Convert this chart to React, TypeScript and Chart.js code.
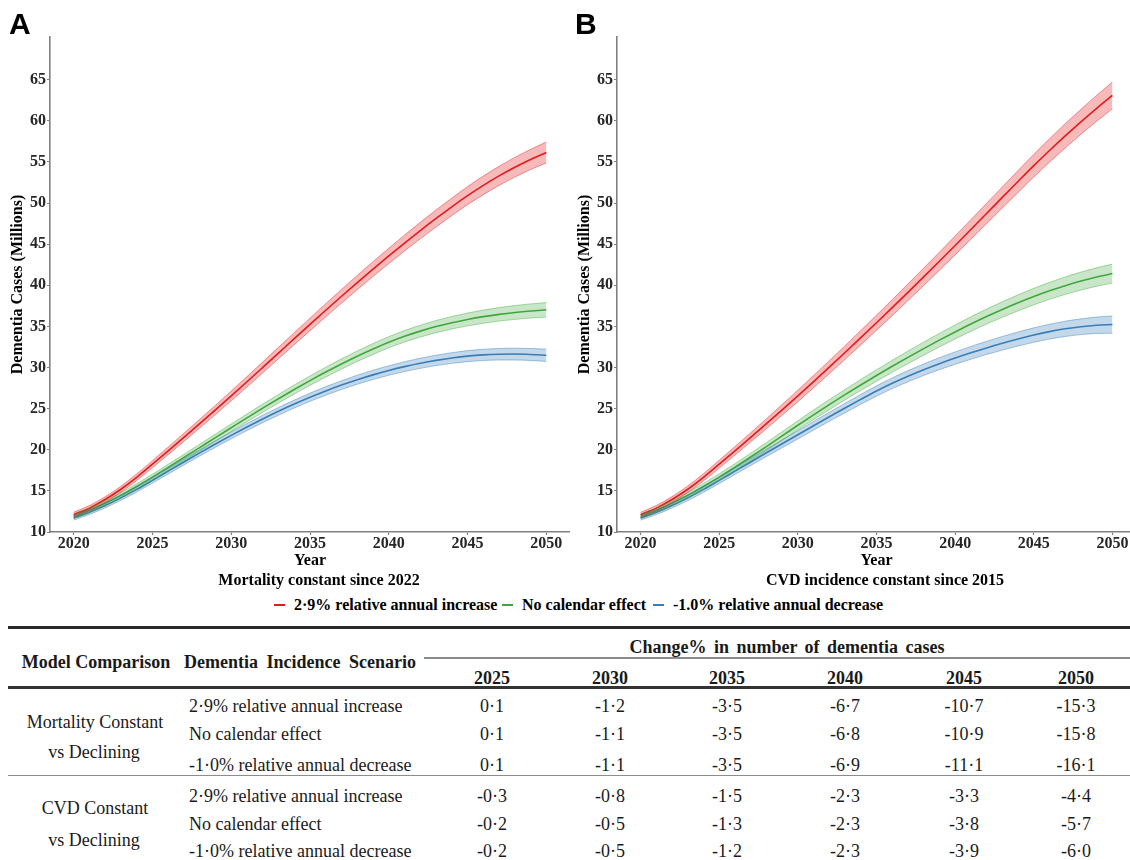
import React, { useEffect, useRef } from 'react';
import { Chart, registerables } from 'chart.js';

Chart.register(...registerables);

const SERIF = "'Liberation Serif', 'Times New Roman', serif";
const SANS = "'Liberation Sans', Arial, sans-serif";

// ---------- chart data ----------
const YEARS = [2020, 2021, 2022, 2023, 2024, 2025, 2026, 2027, 2028, 2029, 2030, 2031, 2032, 2033, 2034, 2035,
  2036, 2037, 2038, 2039, 2040, 2041, 2042, 2043, 2044, 2045, 2046, 2047, 2048, 2049, 2050];
const X_TICKS = [2020, 2025, 2030, 2035, 2040, 2045, 2050];
const Y_TICKS = [10, 15, 20, 25, 30, 35, 40, 45, 50, 55, 60, 65];

const SERIES_NAMES = ['2·9% relative annual increase', 'No calendar effect', '-1.0% relative annual decrease'];
const LINE_COLORS = ['#E41A1C', '#3FA83C', '#377EB8'];
const EDGE_COLORS = ['rgba(228,26,28,0.55)', 'rgba(63,168,60,0.55)', 'rgba(55,126,184,0.55)'];
const BAND_COLORS = ['rgba(228,26,28,0.3)', 'rgba(77,175,74,0.3)', 'rgba(55,126,184,0.3)'];

// Panel A: Mortality constant since 2022
const A_INCREASE = [12.1, 12.9, 13.95, 15.2, 16.65, 18.25, 19.87, 21.51, 23.17, 24.85, 26.55, 28.27, 30.01, 31.76, 33.51, 35.25,
  36.97, 38.67, 40.34, 41.98, 43.58, 45.14, 46.66, 48.13, 49.55, 50.91, 52.16, 53.31, 54.36, 55.31, 56.16];
const A_INCREASE_HW = [0.3, 0.32, 0.34, 0.37, 0.4, 0.43, 0.46, 0.5, 0.53, 0.56, 0.6, 0.63, 0.66, 0.7, 0.73, 0.76,
  0.8, 0.83, 0.86, 0.9, 0.93, 0.96, 1.0, 1.03, 1.06, 1.1, 1.13, 1.16, 1.2, 1.23, 1.27];
const A_NOEFFECT = [11.9, 12.64, 13.5, 14.47, 15.54, 16.68, 17.86, 19.06, 20.27, 21.48, 22.68, 23.88, 25.06, 26.21, 27.33, 28.41,
  29.45, 30.44, 31.38, 32.26, 33.08, 33.8, 34.43, 34.98, 35.45, 35.85, 36.19, 36.47, 36.7, 36.88, 37.02];
const A_NOEFFECT_HW = [0.25, 0.27, 0.29, 0.31, 0.33, 0.35, 0.37, 0.39, 0.41, 0.43, 0.46, 0.48, 0.5, 0.52, 0.55, 0.57,
  0.59, 0.62, 0.64, 0.66, 0.68, 0.7, 0.72, 0.74, 0.76, 0.78, 0.8, 0.82, 0.84, 0.86, 0.88];
const A_DECREASE = [11.7, 12.4, 13.22, 14.15, 15.18, 16.28, 17.4, 18.52, 19.62, 20.7, 21.75, 22.77, 23.75, 24.68, 25.56, 26.39,
  27.16, 27.87, 28.52, 29.11, 29.64, 30.11, 30.52, 30.87, 31.16, 31.39, 31.54, 31.62, 31.64, 31.59, 31.49];
const A_DECREASE_HW = [0.25, 0.27, 0.28, 0.3, 0.32, 0.33, 0.35, 0.37, 0.38, 0.4, 0.42, 0.43, 0.45, 0.47, 0.48, 0.5,
  0.52, 0.53, 0.55, 0.57, 0.58, 0.6, 0.62, 0.63, 0.65, 0.67, 0.68, 0.7, 0.72, 0.73, 0.75];

// Panel B: CVD incidence constant since 2015
const B_INCREASE = [12.1, 12.9, 13.95, 15.2, 16.65, 18.25, 19.87, 21.51, 23.17, 24.85, 26.55, 28.29, 30.05, 31.83, 33.63, 35.45,
  37.29, 39.15, 41.03, 42.93, 44.85, 46.79, 48.74, 50.69, 52.63, 54.55, 56.4, 58.18, 59.89, 61.53, 63.1];
const B_INCREASE_HW = [0.3, 0.33, 0.36, 0.4, 0.44, 0.48, 0.52, 0.56, 0.61, 0.65, 0.7, 0.74, 0.79, 0.83, 0.88, 0.92,
  0.97, 1.01, 1.06, 1.1, 1.15, 1.19, 1.24, 1.28, 1.33, 1.37, 1.42, 1.47, 1.52, 1.57, 1.62];
const B_NOEFFECT = [11.9, 12.64, 13.5, 14.47, 15.54, 16.68, 17.88, 19.12, 20.39, 21.68, 22.98, 24.25, 25.49, 26.7, 27.88, 29.03,
  30.15, 31.24, 32.3, 33.33, 34.33, 35.29, 36.2, 37.06, 37.87, 38.63, 39.33, 39.96, 40.52, 41.01, 41.43];
const B_NOEFFECT_HW = [0.25, 0.28, 0.31, 0.34, 0.37, 0.4, 0.43, 0.46, 0.49, 0.52, 0.55, 0.58, 0.61, 0.64, 0.67, 0.7,
  0.73, 0.76, 0.79, 0.82, 0.85, 0.88, 0.91, 0.94, 0.97, 1.0, 1.03, 1.06, 1.09, 1.12, 1.15];
const B_DECREASE = [11.7, 12.4, 13.22, 14.15, 15.18, 16.28, 17.4, 18.52, 19.63, 20.73, 21.82, 22.92, 24.01, 25.08, 26.13, 27.15,
  28.09, 28.95, 29.74, 30.47, 31.15, 31.79, 32.39, 32.95, 33.47, 33.95, 34.37, 34.71, 34.97, 35.14, 35.23];
const B_DECREASE_HW = [0.25, 0.28, 0.3, 0.33, 0.35, 0.38, 0.4, 0.43, 0.45, 0.48, 0.5, 0.53, 0.55, 0.58, 0.6, 0.63,
  0.65, 0.68, 0.7, 0.73, 0.75, 0.78, 0.8, 0.83, 0.85, 0.88, 0.9, 0.93, 0.96, 1.0, 1.05];

const PANEL_A_MEANS = [A_INCREASE, A_NOEFFECT, A_DECREASE];
const PANEL_A_HW = [A_INCREASE_HW, A_NOEFFECT_HW, A_DECREASE_HW];
const PANEL_B_MEANS = [B_INCREASE, B_NOEFFECT, B_DECREASE];
const PANEL_B_HW = [B_INCREASE_HW, B_NOEFFECT_HW, B_DECREASE_HW];

// ---------- table data ----------
const TABLE_YEARS = ['2025', '2030', '2035', '2040', '2045', '2050'];
const TABLE_SCENARIOS = ['2·9% relative annual increase', 'No calendar effect', '-1·0% relative annual decrease'];
const MORTALITY_CHANGE = [
  ['0·1', '-1·2', '-3·5', '-6·7', '-10·7', '-15·3'],
  ['0·1', '-1·1', '-3·5', '-6·8', '-10·9', '-15·8'],
  ['0·1', '-1·1', '-3·5', '-6·9', '-11·1', '-16·1'],
];
const CVD_CHANGE = [
  ['-0·3', '-0·8', '-1·5', '-2·3', '-3·3', '-4·4'],
  ['-0·2', '-0·5', '-1·3', '-2·3', '-3·8', '-5·7'],
  ['-0·2', '-0·5', '-1·2', '-2·3', '-3·9', '-6·0'],
];

const AXIS_COLOR = '#808080';
const TICK_COLOR = '#262626';
const CANVAS_H = 575;

type PanelProps = { means: number[][]; halfWidths: number[][]; left: number; width: number };

function Panel({ means, halfWidths, left, width }: PanelProps) {
  const ref = useRef<HTMLCanvasElement | null>(null);
  useEffect(() => {
    if (!ref.current) return;
    const datasets: any[] = [];
    means.forEach((m, i) => {
      datasets.push({
        label: SERIES_NAMES[i] + ' lower',
        data: m.map((v, j) => ({ x: YEARS[j], y: v - halfWidths[i][j] })),
        borderColor: EDGE_COLORS[i], borderWidth: 0.8, pointRadius: 0, fill: false,
      });
      datasets.push({
        label: SERIES_NAMES[i] + ' upper',
        data: m.map((v, j) => ({ x: YEARS[j], y: v + halfWidths[i][j] })),
        borderColor: EDGE_COLORS[i], borderWidth: 0.8, pointRadius: 0, fill: '-1',
        backgroundColor: BAND_COLORS[i],
      });
    });
    means.forEach((m, i) => {
      datasets.push({
        label: SERIES_NAMES[i],
        data: m.map((v, j) => ({ x: YEARS[j], y: v })),
        borderColor: LINE_COLORS[i], borderWidth: 1.6, pointRadius: 0, fill: false,
      });
    });
    const tickFont = { family: SERIF, size: 16, weight: 'bold' as const, lineHeight: 1 };
    const titleFont = { family: SERIF, size: 16, weight: 'bold' as const, lineHeight: 1.2 };
    const chart = new Chart(ref.current, {
      type: 'line',
      data: { datasets },
      options: {
        responsive: false,
        animation: false,
        devicePixelRatio: 1,
        layout: { padding: { top: 37, left: 0, right: 0, bottom: 0 } },
        elements: { line: { cubicInterpolationMode: 'monotone' } },
        plugins: {
          legend: { display: false },
          tooltip: { enabled: false },
          filler: { drawTime: 'beforeDatasetsDraw' },
        } as any,
        scales: {
          x: {
            type: 'linear', min: 2018.5, max: 2051.5,
            afterBuildTicks: (s: any) => { s.ticks = X_TICKS.map((v) => ({ value: v })); },
            afterFit: (s: any) => { s.height = CANVAS_H - 532; },
            grid: { drawOnChartArea: false, drawTicks: true, tickLength: 3, tickColor: AXIS_COLOR, tickWidth: 1.2 },
            border: { display: true, color: AXIS_COLOR, width: 1.6 },
            ticks: { font: tickFont, color: TICK_COLOR, padding: 1, maxRotation: 0, autoSkip: false, callback: (v: any) => String(v) },
            title: { display: true, text: 'Year', color: '#000', font: titleFont, padding: { top: 0, bottom: 4.4 } },
          },
          y: {
            type: 'linear', min: 10, max: 70.2,
            afterBuildTicks: (s: any) => { s.ticks = Y_TICKS.map((v) => ({ value: v })); },
            afterFit: (s: any) => { s.width = 50; },
            grid: { drawOnChartArea: false, drawTicks: true, tickLength: 3, tickColor: AXIS_COLOR, tickWidth: 1.2 },
            border: { display: true, color: AXIS_COLOR, width: 1.6 },
            ticks: { font: tickFont, color: TICK_COLOR, padding: 1, autoSkip: false, callback: (v: any) => String(v) },
            title: { display: true, text: 'Dementia Cases (Millions)', color: '#000', font: titleFont, padding: { top: 8.4, bottom: 0 } },
          },
        },
      } as any,
    });
    return () => chart.destroy();
  }, [means, halfWidths]);
  return (
    <canvas ref={ref} width={width} height={CANVAS_H}
      style={{ position: 'absolute', left, top: 0, width, height: CANVAS_H }} />
  );
}

type TxtProps = { x: number; y: number; children: React.ReactNode; align?: 'left' | 'center'; bold?: boolean; size?: number; ws?: number; color?: string; family?: string };
function Txt({ x, y, children, align = 'center', bold = false, size = 18, ws = 0, color = '#1a1a1a', family = SERIF }: TxtProps) {
  return (
    <div style={{
      position: 'absolute', left: x, top: y,
      transform: align === 'center' ? 'translate(-50%, -50%)' : 'translate(0, -50%)',
      fontFamily: family, fontSize: size, lineHeight: 1, fontWeight: bold ? 'bold' : 'normal',
      whiteSpace: 'nowrap', wordSpacing: ws, color,
    }}>{children}</div>
  );
}

function HLine({ x, y, w, h, color }: { x: number; y: number; w: number; h: number; color: string }) {
  return <div style={{ position: 'absolute', left: x, top: y, width: w, height: h, background: color }} />;
}

const COL_X = [492, 610, 727, 845, 964, 1076];
const ROW_Y_MORT = [706, 734, 765];
const ROW_Y_CVD = [796, 824, 851];
const LEGEND_X = [274, 502, 653];

export default function App() {
  return (
    <div style={{ position: 'absolute', left: 0, top: 0, width: 1130, height: 860, overflow: 'hidden', background: '#fff', fontFamily: SERIF }}>
      <Panel means={PANEL_A_MEANS} halfWidths={PANEL_A_HW} left={0} width={570} />
      <Panel means={PANEL_B_MEANS} halfWidths={PANEL_B_HW} left={567} width={569} />

      <div style={{ position: 'absolute', left: 9, top: 8.6, fontFamily: SANS, fontWeight: 'bold', fontSize: 30, lineHeight: '30px', color: '#000' }}>A</div>
      <div style={{ position: 'absolute', left: 575, top: 8.6, fontFamily: SANS, fontWeight: 'bold', fontSize: 30, lineHeight: '30px', color: '#000' }}>B</div>

      <Txt x={319} y={580} bold size={16} color="#000">Mortality constant since 2022</Txt>
      <Txt x={885} y={580} bold size={16} color="#000">CVD incidence constant since 2015</Txt>

      {SERIES_NAMES.map((name, i) => (
        <React.Fragment key={name}>
          <div style={{ position: 'absolute', left: LEGEND_X[i], top: 604, width: 10.5, height: 2, background: LINE_COLORS[i] }} />
          <Txt x={LEGEND_X[i] + 20} y={605} align="left" bold size={16} color="#000">{name}</Txt>
        </React.Fragment>
      ))}

      <HLine x={8} y={625.5} w={1122} h={3} color="#2a2a2a" />
      <HLine x={424} y={657} w={706} h={1.5} color="#8c8c8c" />
      <HLine x={8} y={686} w={1122} h={2.5} color="#333" />
      <HLine x={8} y={774.5} w={1122} h={1.6} color="#8c8c8c" />

      <Txt x={96} y={662} bold>Model Comparison</Txt>
      <Txt x={300} y={662} bold ws={4}>Dementia Incidence Scenario</Txt>
      <Txt x={787} y={647} bold ws={3}>Change% in number of dementia cases</Txt>
      {TABLE_YEARS.map((yr, k) => <Txt key={yr} x={COL_X[k]} y={678} bold>{yr}</Txt>)}

      <Txt x={95} y={722}>Mortality Constant</Txt>
      <Txt x={94} y={752}>vs Declining</Txt>
      <Txt x={95} y={808}>CVD Constant</Txt>
      <Txt x={94} y={840}>vs Declining</Txt>

      {TABLE_SCENARIOS.map((s, r) => (
        <React.Fragment key={'m' + r}>
          <Txt x={189} y={ROW_Y_MORT[r]} align="left">{s}</Txt>
          {MORTALITY_CHANGE[r].map((v, k) => <Txt key={k} x={COL_X[k]} y={ROW_Y_MORT[r]}>{v}</Txt>)}
        </React.Fragment>
      ))}
      {TABLE_SCENARIOS.map((s, r) => (
        <React.Fragment key={'c' + r}>
          <Txt x={189} y={ROW_Y_CVD[r]} align="left">{s}</Txt>
          {CVD_CHANGE[r].map((v, k) => <Txt key={k} x={COL_X[k]} y={ROW_Y_CVD[r]}>{v}</Txt>)}
        </React.Fragment>
      ))}
    </div>
  );
}
